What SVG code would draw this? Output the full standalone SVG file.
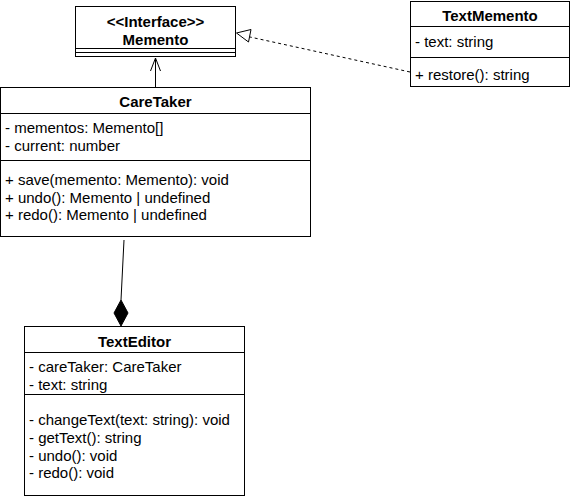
<svg xmlns="http://www.w3.org/2000/svg" width="571" height="500" viewBox="0 0 571 500">
<style>
.box{fill:#fff;stroke:#000;stroke-width:1}
.ln{stroke:#000;stroke-width:1;fill:none}
.t{font-family:"Liberation Sans",Arial,sans-serif;font-size:15px;fill:#000}
.b{font-weight:bold;text-anchor:middle}
</style>
<rect width="571" height="500" fill="#fff"/>
<g id="Memento">
<rect class="box" x="75.5" y="6.5" width="160" height="50"/>
<line class="ln" x1="75.5" y1="48.5" x2="235.5" y2="48.5"/>
<line class="ln" x1="75.5" y1="52.5" x2="235.5" y2="52.5"/>
<text class="t b" x="155.5" y="27">&lt;&lt;Interface&gt;&gt;</text>
<text class="t b" x="155.5" y="45">Memento</text>
</g>
<g id="TextMemento">
<rect class="box" x="410.5" y="1.5" width="159" height="85"/>
<line class="ln" x1="410.5" y1="26.5" x2="569.5" y2="26.5"/>
<line class="ln" x1="410.5" y1="57.5" x2="569.5" y2="57.5"/>
<text class="t b" x="490" y="21">TextMemento</text>
<text class="t" x="415" y="47">- text: string</text>
<text class="t" x="415" y="80">+ restore(): string</text>
</g>
<g id="CareTaker">
<rect class="box" x="0.5" y="87.5" width="310" height="149"/>
<line class="ln" x1="0.5" y1="113.5" x2="310.5" y2="113.5"/>
<line class="ln" x1="0.5" y1="160.5" x2="310.5" y2="160.5"/>
<text class="t b" x="155.5" y="107">CareTaker</text>
<text class="t" x="5" y="133">- mementos: Memento[]</text>
<text class="t" x="5" y="150.5">- current: number</text>
<text class="t" x="5" y="185">+ save(memento: Memento): void</text>
<text class="t" x="5" y="202.5">+ undo(): Memento | undefined</text>
<text class="t" x="5" y="220">+ redo(): Memento | undefined</text>
</g>
<g id="TextEditor">
<rect class="box" x="24.5" y="326.5" width="220" height="169"/>
<line class="ln" x1="24.5" y1="352.5" x2="244.5" y2="352.5"/>
<line class="ln" x1="24.5" y1="394.5" x2="244.5" y2="394.5"/>
<text class="t b" x="134.5" y="347">TextEditor</text>
<text class="t" x="29" y="372">- careTaker: CareTaker</text>
<text class="t" x="29" y="390">- text: string</text>
<text class="t" x="29" y="425">- changeText(text: string): void</text>
<text class="t" x="29" y="443">- getText(): string</text>
<text class="t" x="29" y="460.5">- undo(): void</text>
<text class="t" x="29" y="478">- redo(): void</text>
</g>
<g id="connectors">
<line class="ln" x1="155.5" y1="87" x2="155.5" y2="58"/>
<polyline class="ln" points="150.5,71 155.5,58 160.5,71"/>
<line class="ln" x1="410" y1="72" x2="250" y2="37" stroke-dasharray="3,3"/>
<polygon class="ln" fill="#fff" points="236.5,33 251,29.5 248.5,42"/>
<line class="ln" x1="124" y1="240" x2="121" y2="300"/>
<polygon fill="#000" stroke="#000" points="121,300 128,313 121,326 114,313"/>
</g>
</svg>
